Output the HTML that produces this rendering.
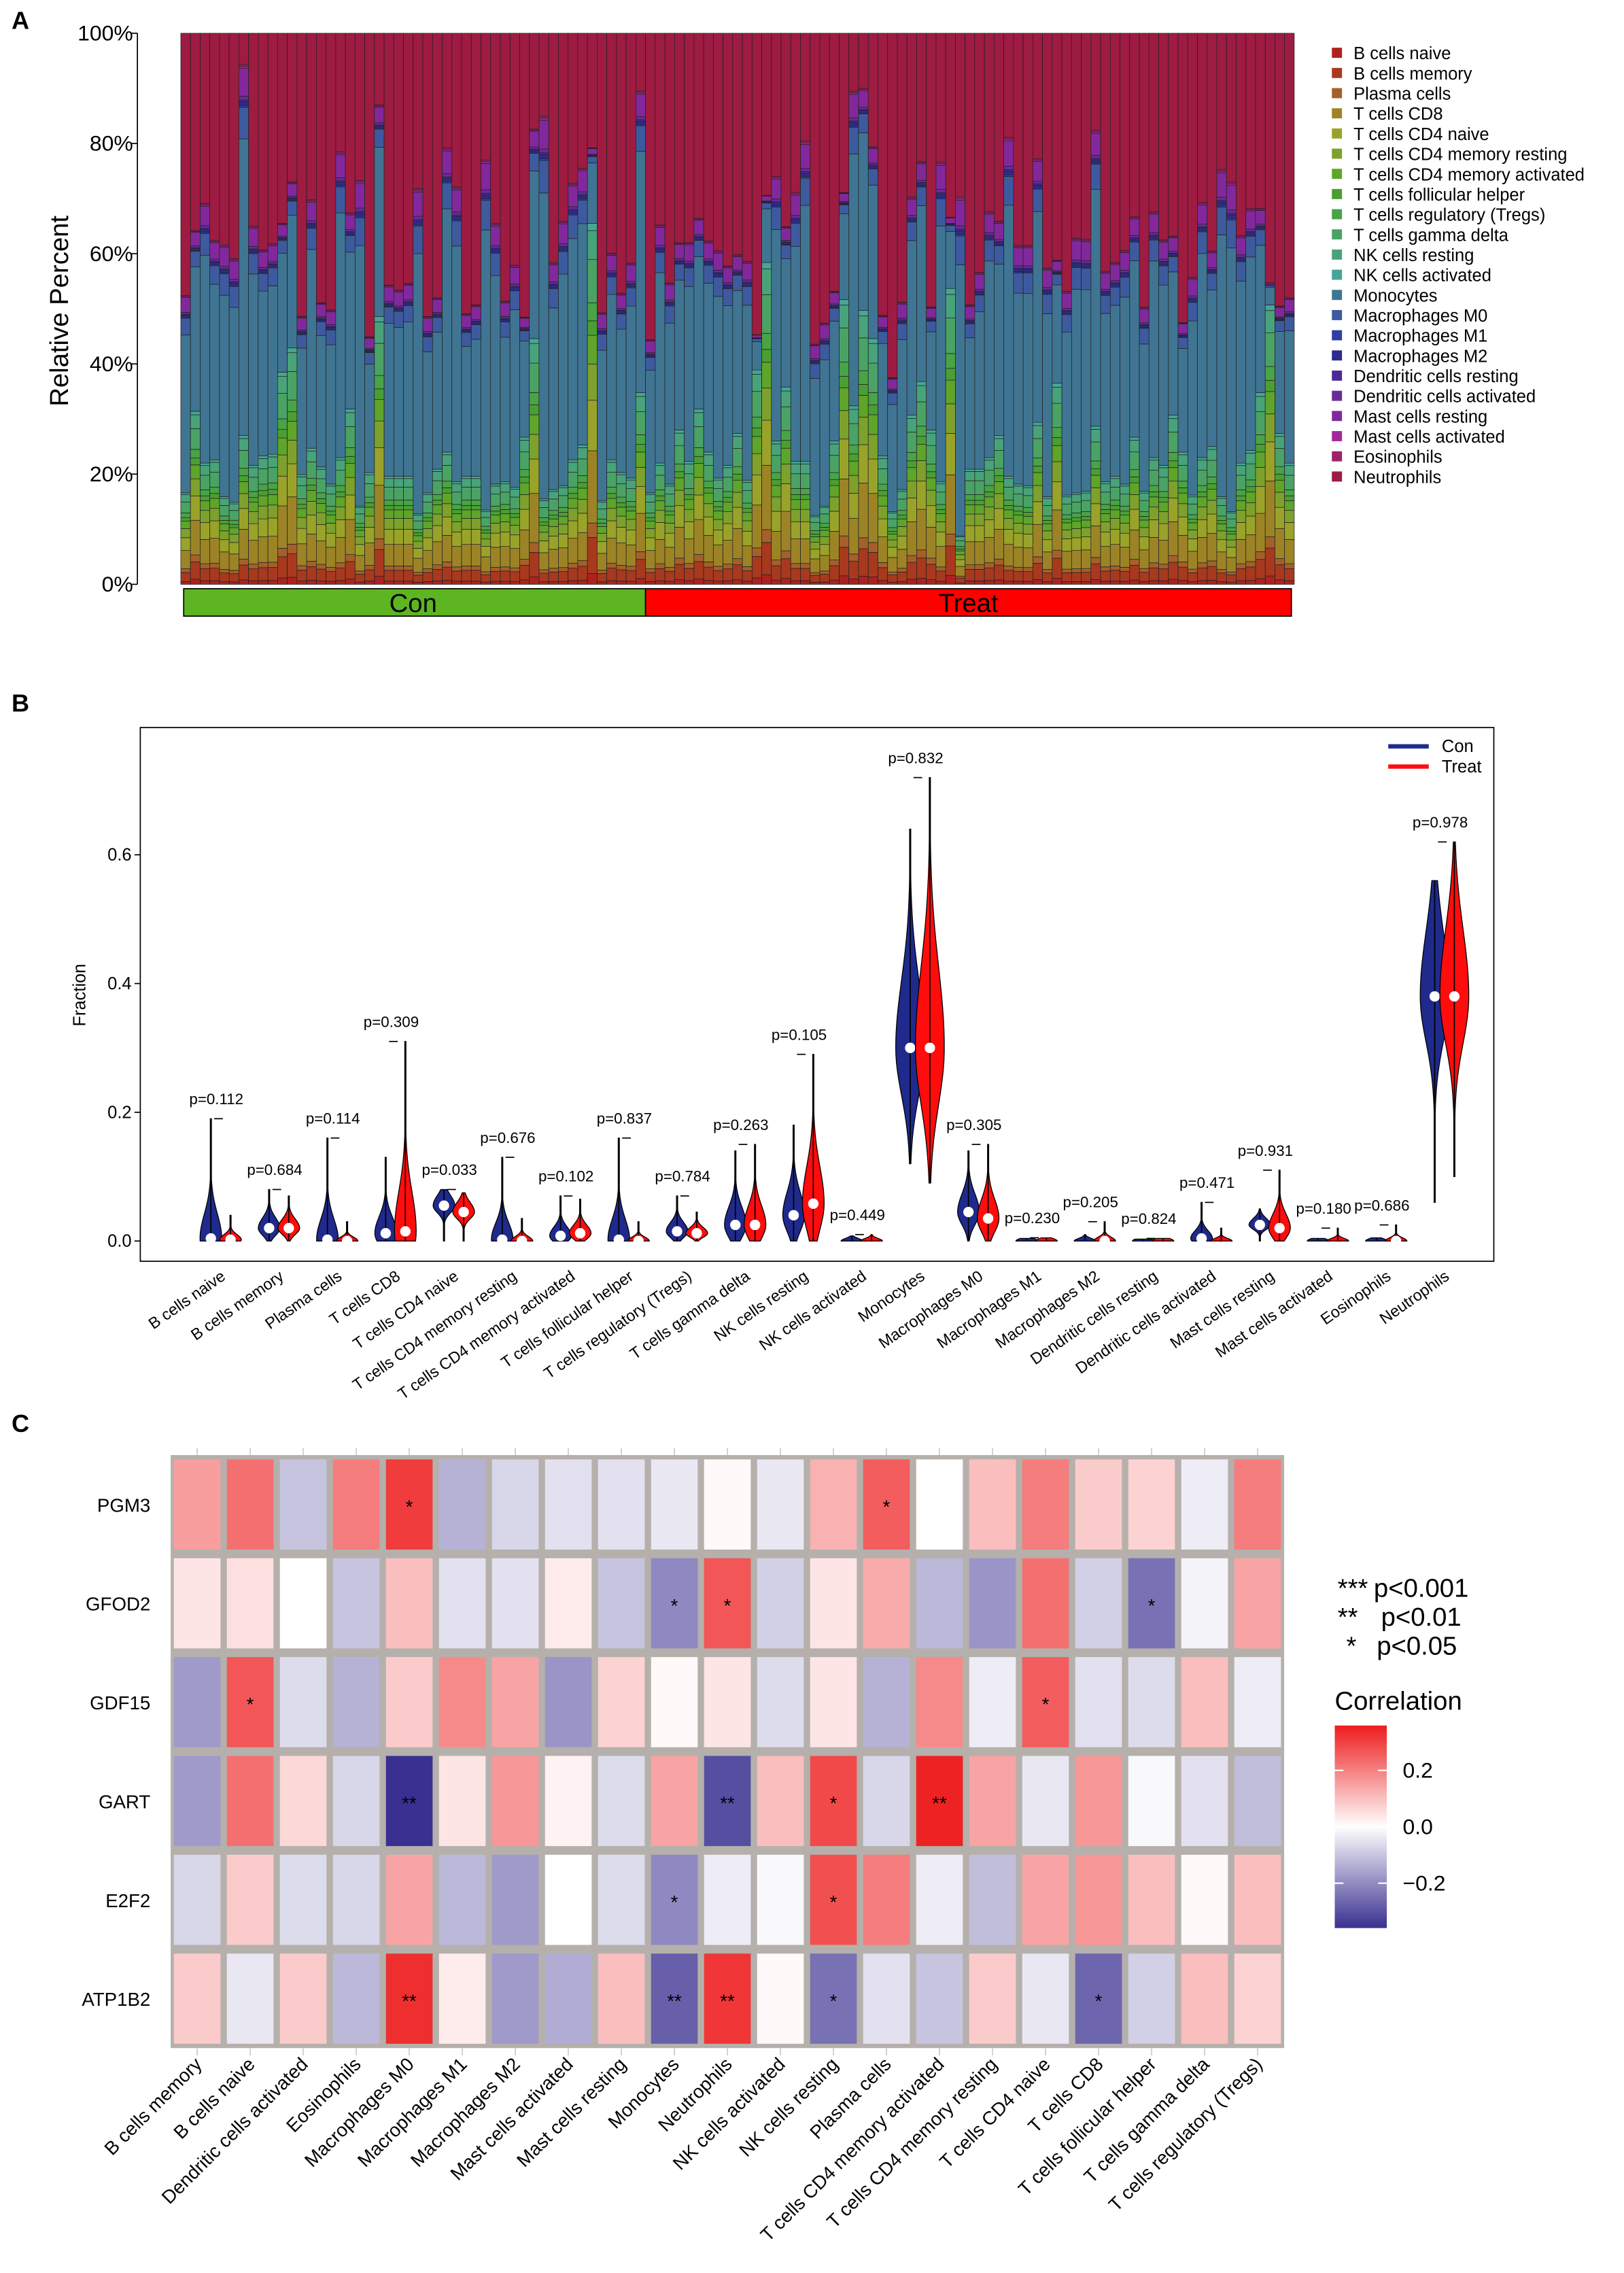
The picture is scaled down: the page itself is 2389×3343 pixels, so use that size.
<!DOCTYPE html>
<html><head><meta charset="utf-8"><style>
html,body{margin:0;padding:0;background:#fff}
svg{display:block;font-family:"Liberation Sans",Arial,sans-serif}
</style></head><body>
<svg id="fig" width="2389" height="3343" viewBox="0 0 1123 1571.5" xmlns="http://www.w3.org/2000/svg">
<g id="pa"></g>
<g id="pb"></g>
<g id="pc"></g>
</svg>
<script>
// ---------- Panel A data ----------
const cellTypes = ["B cells naive","B cells memory","Plasma cells","T cells CD8","T cells CD4 naive","T cells CD4 memory resting","T cells CD4 memory activated","T cells follicular helper","T cells regulatory (Tregs)","T cells gamma delta","NK cells resting","NK cells activated","Monocytes","Macrophages M0","Macrophages M1","Macrophages M2","Dendritic cells resting","Dendritic cells activated","Mast cells resting","Mast cells activated","Eosinophils","Neutrophils"];
const cellColors = ["#b0201f","#a8391e","#a5602a","#9c8426","#9aa329","#7ea12d","#5ea52a","#4a9f33","#49a347","#4aa364","#48a37a","#46a596","#3f7592","#3d5a9e","#2f3ea4","#2d2a92","#4a2a98","#6a2a9a","#82289c","#a2289a","#a0206a","#9e1b42"];
const samplesTop = [52.4,64.2,69.1,62.4,61.6,59.1,94.3,65,60.7,61.8,65.5,73,48.6,69.8,51.1,49.8,78.5,67.4,73.3,44.9,87,54.3,53.4,54.6,71.8,48.6,52,79.2,72.1,49.1,50.7,77,65.5,51.4,57.9,48.5,82.6,84.9,58.4,65.9,72.8,75.5,79.2,49.3,60.1,52.8,58.3,89.5,44.4,65.2,54.7,62,62,66.4,62.3,60.5,57.8,59.8,58.6,45.3,70.6,74,64.9,71.1,80.4,43.6,47.4,53.2,71.1,89.5,90,79.4,48.8,37.5,51.2,70.3,76.7,50.3,76.6,66.6,70.3,50.7,56.6,67.6,65.9,81.1,61.5,61.5,77.2,57.4,58.8,53.2,62.8,62.6,82.4,56.8,58.4,60.6,66.7,50.3,67.6,62.5,63.2,47.5,55.7,69.3,60.5,75.3,73,63.3,68.2,68.2,54.7,50.5,52];
const samplesLymph = [16.6,31.4,22,22.6,15.9,14.9,27,21.6,23.3,23.6,38.5,42.9,19.9,24.7,21.3,18.2,23,31.8,14.2,20.3,48.6,19.6,19.6,19.6,12.8,16.6,20.9,24,18.6,19.6,19.6,13.5,18.2,18.6,17.6,26.7,44.6,15.5,17.2,17.9,22.6,25.3,65.5,15.2,22.6,20.3,19.3,34.8,16.6,22,18.2,28,22.3,31.8,24,19.3,21.6,27.4,18.9,38.9,58.4,26,35.8,22.3,22.3,12.5,14.2,26,51.7,32.4,49.7,44.6,23.3,13.2,17.2,30.7,36.8,28,18.6,53.7,8.8,20.9,20.9,23,27,19.6,18.2,17.9,29.4,15.9,36.5,16.2,16.6,16.9,28.7,18.6,19.6,18.2,26.7,16.9,23,21.6,30.7,24,16.2,23,25,15.9,13.2,22,24.3,34.8,55.1,27.4,22];
const conCount = 48;
const lymphShares = [0.03,0.1,0.04,0.2,0.14,0.1,0.08,0.04,0.05,0.12,0.08,0.02];
const myeloShares = [0.8,0.085,0.005,0.01,0.005,0.01,0.075,0.005,0.005];
const pctTicks = ["0%","20%","40%","60%","80%","100%"];

// ---------- Panel B data ----------
const vioCells = ["B cells naive","B cells memory","Plasma cells","T cells CD8","T cells CD4 naive","T cells CD4 memory resting","T cells CD4 memory activated","T cells follicular helper","T cells regulatory (Tregs)","T cells gamma delta","NK cells resting","NK cells activated","Monocytes","Macrophages M0","Macrophages M1","Macrophages M2","Dendritic cells resting","Dendritic cells activated","Mast cells resting","Mast cells activated","Eosinophils","Neutrophils"];
const conMax = [0.19,0.08,0.16,0.13,0.08,0.13,0.07,0.16,0.07,0.14,0.18,0.008,0.64,0.14,0.004,0.01,0.003,0.06,0.05,0.004,0.005,0.56];
const conMin = [0,0,0,0,0,0,0,0,0,0,0,0,0.12,0,0,0,0,0,0,0,0,0.06];
const conMed = [0.004,0.02,0.002,0.012,0.055,0.002,0.008,0.002,0.015,0.025,0.04,0,0.30,0.045,0,0,0,0.004,0.025,0,0,0.38];
const trtMax = [0.04,0.07,0.03,0.31,0.075,0.035,0.065,0.03,0.045,0.15,0.29,0.01,0.72,0.15,0.005,0.03,0.004,0.02,0.11,0.02,0.025,0.62];
const trtMin = [0,0,0,0,0,0,0,0,0,0,0,0,0.09,0,0,0,0,0,0,0,0,0.10];
const trtMed = [0.002,0.02,0,0.015,0.045,0,0.012,0,0.012,0.025,0.058,0,0.30,0.035,0,0,0,0,0.02,0,0,0.38];
const pvals = ["p=0.112","p=0.684","p=0.114","p=0.309","p=0.033","p=0.676","p=0.102","p=0.837","p=0.784","p=0.263","p=0.105","p=0.449","p=0.832","p=0.305","p=0.230","p=0.205","p=0.824","p=0.471","p=0.931","p=0.180","p=0.686","p=0.978"];
const fracTicks = [0,0.2,0.4,0.6];

// ---------- Panel C data ----------
const genes = ["PGM3","GFOD2","GDF15","GART","E2F2","ATP1B2"];
const immCols = ["B cells memory","B cells naive","Dendritic cells activated","Eosinophils","Macrophages M0","Macrophages M1","Macrophages M2","Mast cells activated","Mast cells resting","Monocytes","Neutrophils","NK cells activated","NK cells resting","Plasma cells","T cells CD4 memory activated","T cells CD4 memory resting","T cells CD4 naive","T cells CD8","T cells follicular helper","T cells gamma delta","T cells regulatory (Tregs)"];
const corPGM3 = [.15,.22,-.1,.2,.3,-.13,-.07,-.05,-.05,-.04,.01,-.04,.12,.25,0,.1,.2,.08,.07,-.03,.2];
const corGFOD2 = [.04,.05,0,-.1,.1,-.05,-.05,.03,-.1,-.2,.26,-.08,.04,.13,-.12,-.18,.22,-.08,-.24,-.02,.14];
const corGDF15 = [-.17,.26,-.06,-.13,.08,.18,.14,-.18,.07,.01,.04,-.06,.04,-.13,.18,-.03,.25,-.05,-.06,.1,-.03];
const corGART = [-.17,.22,.06,-.07,-.35,.04,.16,.02,-.06,.14,-.3,.1,.28,-.07,.34,.14,-.04,.16,-.01,-.05,-.11];
const corE2F2 = [-.07,.08,-.06,-.07,.14,-.12,-.17,0,-.06,-.2,-.03,-.01,.27,.2,-.03,-.11,.14,.16,.1,.01,.1];
const corATP1B2 = [.08,-.04,.08,-.12,.32,.03,-.17,-.14,.1,-.27,.31,.01,-.24,-.05,-.1,.08,-.04,-.26,-.08,.1,.07];
const sigPGM3 = ["","","","","*","","","","","","","","","*","","","","","","",""];
const sigGFOD2 = ["","","","","","","","","","*","*","","","","","","","","*","",""];
const sigGDF15 = ["","*","","","","","","","","","","","","","","","*","","","",""];
const sigGART = ["","","","","**","","","","","","**","","*","","**","","","","","",""];
const sigE2F2 = ["","","","","","","","","","*","","","*","","","","","","","",""];
const sigATP1B2 = ["","","","","**","","","","","**","**","","*","","","","","*","","",""];
const corTicks = [0.2,0,-0.2];

const NS="http://www.w3.org/2000/svg";
function mk(parent,tag,attrs,text){const e=document.createElementNS(NS,tag);for(const k in attrs)e.setAttribute(k,attrs[k]);if(text!==undefined)e.textContent=text;parent.appendChild(e);return e;}

// ================= Panel A =================
(function(){
const g=document.getElementById('pa');
const x0=125,x1=895,yTop=23,yBot=404;
const yA=v=>yBot-(v/100)*(yBot-yTop);
let t=mk(g,'text',{x:8,y:20,'font-size':17,'font-weight':'bold'},'A');


let ax=mk(g,'line',{x1:95,y1:yTop,x2:95,y2:yBot,stroke:'#000','stroke-width':0.8});


pctTicks.forEach((lab,i)=>{const y=yA(i*20);
 let tk=mk(g,'line',{x1:91,y1:y,x2:95,y2:y,stroke:'#000','stroke-width':0.8});
 
 
 let tl=mk(g,'text',{x:92,y:y+5,'font-size':15,'text-anchor':'end'},lab);
 
 
});
let yt=mk(g,'text',{x:0,y:0,'font-size':18,'text-anchor':'middle',transform:'translate(47,215) rotate(-90)'},'Relative Percent');


const n=samplesTop.length, bw=(x1-x0)/n;
for(let i=0;i<n;i++){
 const top=samplesTop[i]; const lym=Math.min(samplesLymph[i],top-4);
 const bg=mk(g,'g',{});
 
 
 let cum=0; const segs=[];
 lymphShares.forEach((s,k)=>segs.push([k,s*lym]));
 myeloShares.forEach((s,k)=>segs.push([12+k,s*(top-lym)]));
 segs.push([21,100-top]);
 segs.forEach(([k,v])=>{
  const r=mk(bg,'rect',{x:x0+i*bw,y:yA(cum+v),width:bw,height:Math.max(0,yA(cum)-yA(cum+v)),fill:cellColors[k],stroke:'#222','stroke-width':0.35});
  
  
  cum+=v;
 });
}
const xc=x0+conCount*bw;
let gb=mk(g,'rect',{x:x0+2,y:407,width:xc-x0-2,height:19,fill:'#5db522',stroke:'#000','stroke-width':0.8});


let gr=mk(g,'rect',{x:xc,y:407,width:893-xc,height:19,fill:'#ff0000',stroke:'#000','stroke-width':0.8});


let tc=mk(g,'text',{x:(x0+xc)/2,y:423,'font-size':18,'text-anchor':'middle'},'Con');


let tt=mk(g,'text',{x:(xc+893)/2,y:423,'font-size':18,'text-anchor':'middle'},'Treat');


cellTypes.forEach((c,k)=>{const y=37+k*13.95;
 const le=mk(g,'g',{});
 
 
 mk(le,'rect',{x:921,y:y-4,width:7,height:7,fill:cellColors[k]});
 mk(le,'text',{x:936,y:y+4,'font-size':12},c);
});
})();

// ================= Panel B =================
(function(){
const g=document.getElementById('pb');
const bx0=97,bx1=1033,by0=503,by1=872;
const yB=v=>858-v*445;
const cx=i=>152.6+i*40.3;
let t=mk(g,'text',{x:8,y:492,'font-size':17,'font-weight':'bold'},'B');


let box=mk(g,'rect',{x:bx0,y:by0,width:bx1-bx0,height:by1-by0,fill:'none',stroke:'#000','stroke-width':0.8});


fracTicks.forEach(v=>{const y=yB(v);
 let tk=mk(g,'line',{x1:bx0-4,y1:y,x2:bx0,y2:y,stroke:'#000','stroke-width':0.8});
 
 
 let tl=mk(g,'text',{x:bx0-6,y:y+4,'font-size':12,'text-anchor':'end'},v.toFixed(1));
 
 
});
let yt=mk(g,'text',{x:0,y:0,'font-size':12,'text-anchor':'middle',transform:'translate(59,688) rotate(-90)'},'Fraction');


function violin(x,mn,mx,md,col,big){
 const sd=Math.max((mx-mn)/5,0.004), W=big?10:7.5, pts=[],N=40;
 for(let j=0;j<=N;j++){const v=mn+(mx-mn)*j/N;const d=(v-md)/(v<md?sd*0.7:sd);const w=Math.max(0.4,W*Math.exp(-0.5*d*d));pts.push([x+w,yB(v)]);}
 const left=pts.slice().reverse().map(p=>[2*x-p[0],p[1]]);
 const p=mk(g,'polygon',{points:pts.concat(left).map(q=>q[0].toFixed(2)+','+q[1].toFixed(2)).join(' '),fill:col,stroke:'#000','stroke-width':0.6});
 
 
 const l=mk(g,'line',{x1:x,y1:yB(mn),x2:x,y2:yB(mx),stroke:'#000','stroke-width':0.8});
 
 
 if(mx-mn>0.02){const c=mk(g,'circle',{cx:x,cy:yB(md),r:3.6,fill:'#fff'});
 
 }
}
vioCells.forEach((c,i)=>{
 const xc=cx(i);
 violin(xc-6.8,conMin[i],conMax[i],conMed[i],'#1f2a8c',i==12||i==21);
 violin(xc+6.8,trtMin[i],trtMax[i],trtMed[i],'#ff0d0d',i==12||i==21);
 const top=Math.max(conMax[i],trtMax[i]);
 const br=mk(g,'line',{x1:xc-4.5,y1:yB(top),x2:xc+1.5,y2:yB(top),stroke:'#000','stroke-width':0.8});
 
 
 const pt=mk(g,'text',{x:xc-3,y:yB(top)-10,'font-size':10.5,'text-anchor':'middle'},pvals[i]);
 
 
 const xl=mk(g,'text',{x:0,y:0,'font-size':11,'text-anchor':'end',transform:`translate(${xc+4},${884}) rotate(-35)`},c);
 
 
});
[['Con','#1f2a8c',516],['Treat','#ff0d0d',530]].forEach(([n,c,y])=>{
 const le=mk(g,'g',{});
 
 
 mk(le,'line',{x1:960,y1:y,x2:988,y2:y,stroke:c,'stroke-width':3});
 mk(le,'text',{x:997,y:y+4,'font-size':12},n);
});
})();

// ================= Panel C =================
(function(){
const g=document.getElementById('pc');
const hx0=118,hx1=888,hy0=1006,hy1=1416;
const cw=(hx1-hx0)/immCols.length, rh=(hy1-hy0)/genes.length;
const cors=[corPGM3,corGFOD2,corGDF15,corGART,corE2F2,corATP1B2];
const sigs=[sigPGM3,sigGFOD2,sigGDF15,sigGART,sigE2F2,sigATP1B2];
function col(v){const t=Math.max(-1,Math.min(1,v/0.35));let a,b=[255,255,255];
 if(t<0){a=[58,48,145];}else{a=[238,28,28];}const s=Math.abs(t);
 return 'rgb('+b.map((c,k)=>Math.round(c+(a[k]-c)*s)).join(',')+')';}
let t=mk(g,'text',{x:8,y:990,'font-size':17,'font-weight':'bold'},'C');


let bg=mk(g,'rect',{x:hx0,y:hy0,width:hx1-hx0,height:hy1-hy0,fill:'#b5b0ab'});


genes.forEach((gn,r)=>{
 const rl=mk(g,'text',{x:104,y:hy0+r*rh+rh/2+5,'font-size':13,'text-anchor':'end'},gn);
 
 
 immCols.forEach((c,k)=>{
  const cell=mk(g,'rect',{x:hx0+k*cw+2.2,y:hy0+r*rh+3,width:cw-4.4,height:rh-6,fill:col(cors[r][k])});
  
  
  if(sigs[r][k]){const s=mk(g,'text',{x:hx0+k*cw+cw/2,y:hy0+r*rh+rh/2+6,'font-size':13,'text-anchor':'middle'},sigs[r][k]);
   
   }
 });
});
immCols.forEach((c,k)=>{const x=hx0+k*cw+cw/2;
 mk(g,'line',{x1:x,y1:hy0-5,x2:x,y2:hy0,stroke:'#ccc','stroke-width':0.8});
 mk(g,'line',{x1:x,y1:hy1,x2:x,y2:hy1+5,stroke:'#ccc','stroke-width':0.8});
 const xl=mk(g,'text',{x:0,y:0,'font-size':13,'text-anchor':'end',transform:`translate(${x+4},${1428}) rotate(-45)`},c);
 
 
});
[['***','p<0.001',1104,925,950],['**','p<0.01',1124,925,955],['*','p<0.05',1144,931,952]].forEach(([s,p,y,xs,xp])=>{
 const l=mk(g,'text',{x:xs,y:y,'font-size':18},s);
 
 
 const l2=mk(g,'text',{x:xp,y:y,'font-size':18},p);
 
 
});
let ct=mk(g,'text',{x:923,y:1182,'font-size':18},'Correlation');


const defs=mk(g,'defs',{});
const lg=mk(defs,'linearGradient',{id:'cb',x1:0,y1:0,x2:0,y2:1});
mk(lg,'stop',{offset:'0','stop-color':col(0.35)});
mk(lg,'stop',{offset:'0.5','stop-color':'#fff'});
mk(lg,'stop',{offset:'1','stop-color':col(-0.35)});
let cb=mk(g,'rect',{x:923,y:1193,width:36,height:140,fill:'url(#cb)'});


corTicks.forEach(v=>{const y=1263-v*195;
 mk(g,'line',{x1:923,y1:y,x2:929,y2:y,stroke:'#fff','stroke-width':1});
 mk(g,'line',{x1:953,y1:y,x2:959,y2:y,stroke:'#fff','stroke-width':1});
 const l=mk(g,'text',{x:970,y:y+5,'font-size':15},v===0?'0.0':(v<0?'\u22120.2':'0.2'));
 
 
});
})();
</script>
</body></html>
